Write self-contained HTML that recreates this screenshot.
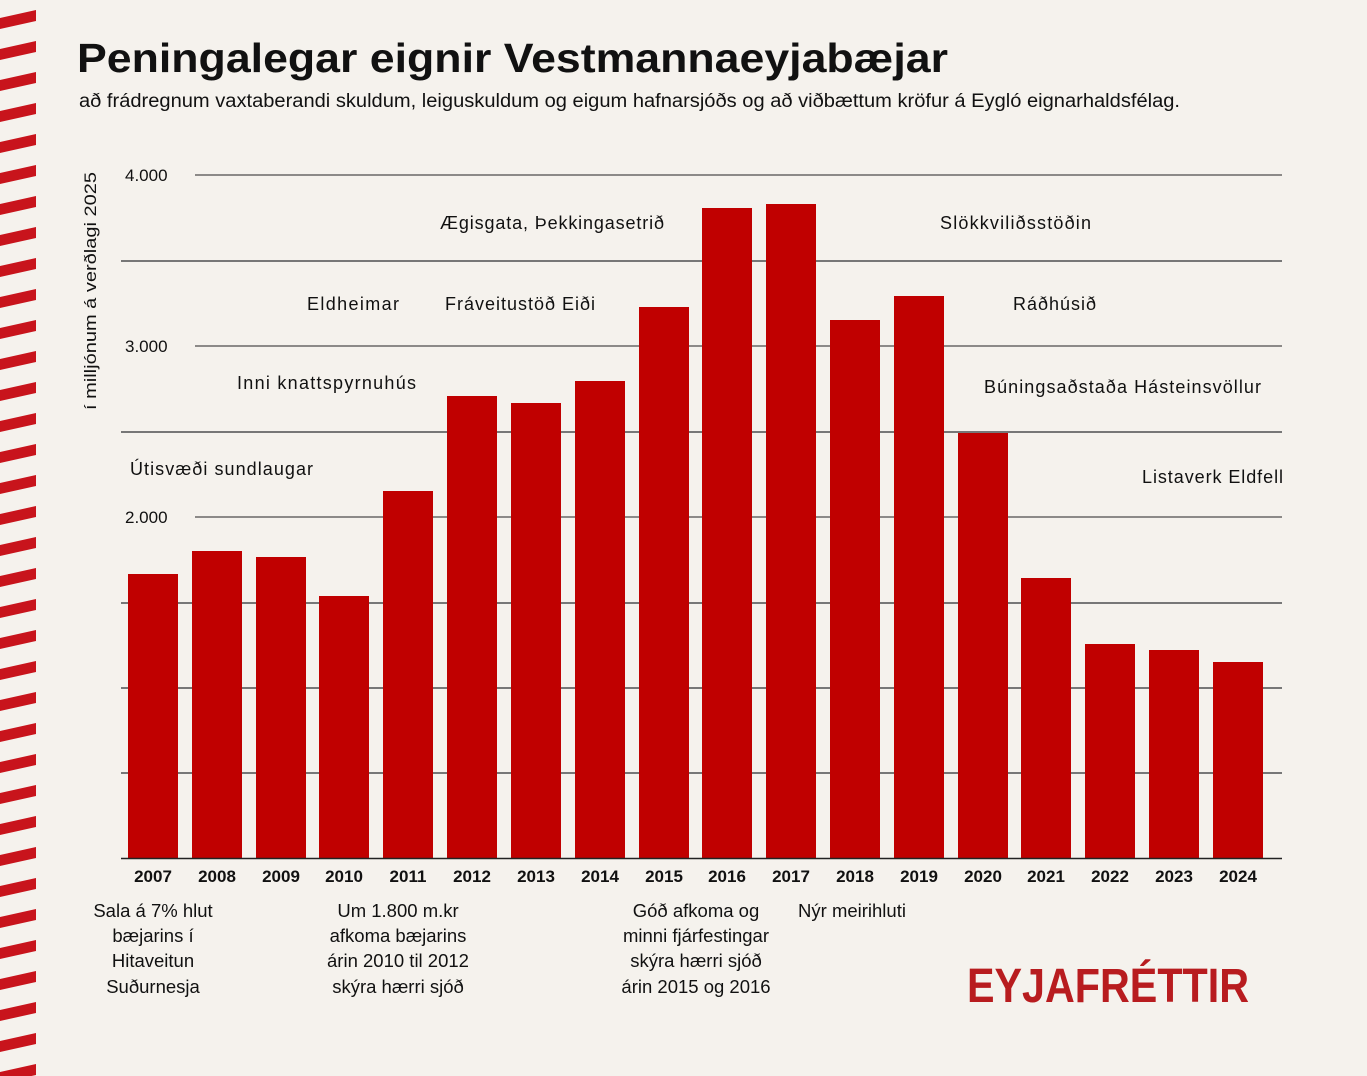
<!DOCTYPE html>
<html><head><meta charset="utf-8"><style>
body{margin:0;background:#f5f2ed;}
svg{display:block}
text{font-family:"Liberation Sans",sans-serif;fill:#111}
</style></head><body>
<svg width="1367" height="1076" viewBox="0 0 1367 1076" xmlns="http://www.w3.org/2000/svg">
<rect width="1367" height="1076" fill="#f5f2ed"/>
<defs>
<pattern id="st" width="36" height="31" patternUnits="userSpaceOnUse">
<polygon points="0,18 36,10 36,21 0,29" fill="#c8141c"/>
</pattern>
</defs>
<rect x="0" y="-12" width="36" height="1100" fill="url(#st)"/>
<text x="77" y="72" font-size="41" font-weight="bold" textLength="871" lengthAdjust="spacingAndGlyphs">Peningalegar eignir Vestmannaeyjabæjar</text>
<text x="79" y="107" font-size="19" textLength="1101" lengthAdjust="spacingAndGlyphs">að frádregnum vaxtaberandi skuldum, leiguskuldum og eigum hafnarsjóðs og að viðbættum kröfur á Eygló eignarhaldsfélag.</text>
<g stroke="#222" stroke-width="1">
<line x1="195" y1="175" x2="1282" y2="175"/>
<line x1="195" y1="346" x2="1282" y2="346"/>
<line x1="195" y1="517" x2="1282" y2="517"/>
</g>
<g stroke="#777" stroke-width="2">
<line x1="121" y1="261" x2="1282" y2="261"/>
<line x1="121" y1="432" x2="1282" y2="432"/>
<line x1="121" y1="603" x2="1282" y2="603"/>
<line x1="121" y1="688" x2="1282" y2="688"/>
<line x1="121" y1="773" x2="1282" y2="773"/>
</g>
<g font-size="17">
<text x="125" y="181">4.000</text>
<text x="125" y="352">3.000</text>
<text x="125" y="523">2.000</text>
</g>
<text transform="translate(96,410) rotate(-90)" font-size="17" textLength="238" lengthAdjust="spacingAndGlyphs">í milljónum á verðlagi 2025</text>
<g fill="#c00000">
<rect x="128" y="574" width="50" height="285"/>
<rect x="192" y="551" width="50" height="308"/>
<rect x="256" y="557" width="50" height="302"/>
<rect x="319" y="596" width="50" height="263"/>
<rect x="383" y="491" width="50" height="368"/>
<rect x="447" y="396" width="50" height="463"/>
<rect x="511" y="403" width="50" height="456"/>
<rect x="575" y="381" width="50" height="478"/>
<rect x="639" y="307" width="50" height="552"/>
<rect x="702" y="208" width="50" height="651"/>
<rect x="766" y="204" width="50" height="655"/>
<rect x="830" y="320" width="50" height="539"/>
<rect x="894" y="296" width="50" height="563"/>
<rect x="958" y="433" width="50" height="426"/>
<rect x="1021" y="578" width="50" height="281"/>
<rect x="1085" y="644" width="50" height="215"/>
<rect x="1149" y="650" width="50" height="209"/>
<rect x="1213" y="662" width="50" height="197"/>
</g>
<line x1="121" y1="858.5" x2="1282" y2="858.5" stroke="#222" stroke-width="1.5"/>
<g font-size="17" font-weight="bold" text-anchor="middle">
<text x="153" y="882">2007</text><text x="217" y="882">2008</text><text x="281" y="882">2009</text>
<text x="344" y="882">2010</text><text x="408" y="882">2011</text><text x="472" y="882">2012</text>
<text x="536" y="882">2013</text><text x="600" y="882">2014</text><text x="664" y="882">2015</text>
<text x="727" y="882">2016</text><text x="791" y="882">2017</text><text x="855" y="882">2018</text>
<text x="919" y="882">2019</text><text x="983" y="882">2020</text><text x="1046" y="882">2021</text>
<text x="1110" y="882">2022</text><text x="1174" y="882">2023</text><text x="1238" y="882">2024</text>
</g>
<g font-size="18" lengthAdjust="spacingAndGlyphs">
<text x="130" y="475" textLength="183">Útisvæði sundlaugar</text>
<text x="237" y="389" textLength="179">Inni knattspyrnuhús</text>
<text x="307" y="310" textLength="92">Eldheimar</text>
<text x="445" y="310" textLength="150">Fráveitustöð Eiði</text>
<text x="440" y="229" textLength="224">Ægisgata, Þekkingasetrið</text>
<text x="940" y="229" textLength="151">Slökkviliðsstöðin</text>
<text x="1013" y="310" textLength="83">Ráðhúsið</text>
<text x="984" y="393" textLength="277">Búningsaðstaða Hásteinsvöllur</text>
<text x="1142" y="483" textLength="141">Listaverk Eldfell</text>
</g>
<g font-size="18.5" text-anchor="middle">
<text x="153" y="917">Sala á 7% hlut</text><text x="153" y="942">bæjarins í</text>
<text x="153" y="967">Hitaveitun</text><text x="153" y="993">Suðurnesja</text>
<text x="398" y="917">Um 1.800 m.kr</text><text x="398" y="942">afkoma bæjarins</text>
<text x="398" y="967">árin 2010 til 2012</text><text x="398" y="993">skýra hærri sjóð</text>
<text x="696" y="917">Góð afkoma og</text><text x="696" y="942">minni fjárfestingar</text>
<text x="696" y="967">skýra hærri sjóð</text><text x="696" y="993">árin 2015 og 2016</text>
<text x="852" y="917">Nýr meirihluti</text>
</g>
<text x="1108" y="1002" font-size="48" font-weight="bold" text-anchor="middle" style="fill:#b81c1f" textLength="282" lengthAdjust="spacingAndGlyphs">EYJAFRÉTTIR</text>
</svg>
</body></html>
